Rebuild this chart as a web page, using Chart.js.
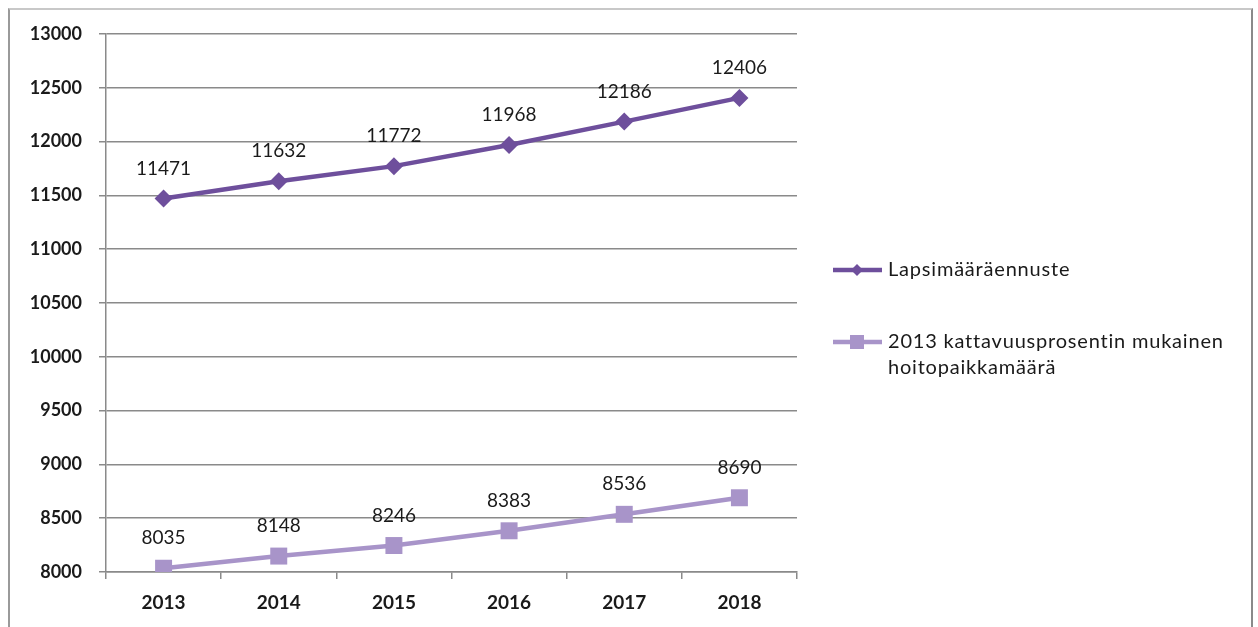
<!DOCTYPE html>
<html>
<head>
<meta charset="utf-8">
<script src="https://cdn.jsdelivr.net/npm/chart.js@4.4.0/dist/chart.umd.min.js"></script>
<style>
  html, body { margin: 0; padding: 0; background: #ffffff; overflow: hidden; }
  #wrap { position: relative; width: 1258px; height: 627px; }
  #frame {
    position: absolute; left: 8px; top: 8px; width: 1241px; height: 700px;
    border-top: 2px solid #c8c8c8; border-left: 2px solid #9a9a9a; border-right: 2px solid #8a8a8a;
  }
  canvas { position: absolute; left: 0; top: 0; }
</style>
</head>
<body>
<div id="wrap">
  <div id="frame"></div>
  <canvas id="chart" width="1258" height="627"></canvas>
</div>
<script>
// Chart data
const years = ['2013', '2014', '2015', '2016', '2017', '2018'];
const childForecast = [11471, 11632, 11772, 11968, 12186, 12406];
const carePlaces = [8035, 8148, 8246, 8383, 8536, 8690];
const seriesNames = ['Lapsimääräennuste', ['2013 kattavuusprosentin mukainen', 'hoitopaikkamäärä']];
const yTicks = [8000, 8500, 9000, 9500, 10000, 10500, 11000, 11500, 12000, 12500, 13000];

const darkPurple = '#6e4f9c';
const lightPurple = '#a894c9';
const fontFamily = 'Lato, "Open Sans", sans-serif';

// Draws value labels above each point
const valueLabels = {
    id: 'valueLabels',
    afterDatasetsDraw(chart) {
        const ctx = chart.ctx;
        ctx.save();
        ctx.font = '19px ' + fontFamily;
        ctx.fillStyle = '#1a1a1a';
        ctx.textAlign = 'center';
        ctx.textBaseline = 'middle';
        chart.data.datasets.forEach((ds, i) => {
            const meta = chart.getDatasetMeta(i);
            meta.data.forEach((pt, j) => {
                ctx.fillText(String(ds.data[j]), pt.x, pt.y - 30);
            });
        });
        ctx.restore();
    }
};

// Legend at the right side, with wrapped second entry
const sideLegend = {
    id: 'sideLegend',
    afterDraw(chart) {
        const ctx = chart.ctx;
        const x0 = chart.chartArea.right + 36;
        const rows = [270, 342];
        ctx.save();
        ctx.font = '20px ' + fontFamily;
        ctx.letterSpacing = '0.8px';
        ctx.textBaseline = 'middle';
        chart.data.datasets.forEach((ds, i) => {
            const y = rows[i];
            ctx.strokeStyle = ds.borderColor;
            ctx.lineWidth = 4.5;
            ctx.beginPath();
            ctx.moveTo(x0, y);
            ctx.lineTo(x0 + 49, y);
            ctx.stroke();
            ctx.fillStyle = ds.pointBackgroundColor;
            ctx.beginPath();
            if (i === 0) {
                ctx.moveTo(x0 + 24, y - 6);
                ctx.lineTo(x0 + 30, y);
                ctx.lineTo(x0 + 24, y + 6);
                ctx.lineTo(x0 + 18, y);
                ctx.closePath();
            } else {
                ctx.rect(x0 + 17, y - 7, 14, 14);
            }
            ctx.fill();
            ctx.fillStyle = '#1a1a1a';
            const lines = Array.isArray(ds.label) ? ds.label : [ds.label];
            lines.forEach((t, k) => ctx.fillText(t, x0 + 55, y + k * 26));
        });
        ctx.restore();
    }
};

initChart();

function initChart() {
    const ctx = document.getElementById('chart').getContext('2d');
    new Chart(ctx, {
        type: 'line',
        data: {
            labels: years,
            datasets: [
                {
                    label: seriesNames[0],
                    data: childForecast,
                    borderColor: darkPurple,
                    backgroundColor: darkPurple,
                    pointBackgroundColor: darkPurple,
                    pointBorderWidth: 0,
                    borderWidth: 4.5,
                    pointStyle: 'rectRot',
                    pointRadius: 9,
                    tension: 0
                },
                {
                    label: seriesNames[1],
                    data: carePlaces,
                    borderColor: lightPurple,
                    backgroundColor: lightPurple,
                    pointBackgroundColor: lightPurple,
                    pointBorderWidth: 0,
                    borderWidth: 4.5,
                    pointStyle: 'rect',
                    pointRadius: 12,
                    tension: 0
                }
            ]
        },
        options: {
            responsive: false,
            animation: false,
            layout: { padding: { left: 0, right: 461, top: 34, bottom: 0 } },
            plugins: {
                legend: { display: false },
                tooltip: { enabled: false }
            },
            scales: {
                x: {
                    offset: true,
                    grid: {
                        offset: true,
                        drawOnChartArea: false,
                        drawTicks: true,
                        tickLength: 7,
                        color: '#8a8a8a',
                        lineWidth: 1.5
                    },
                    border: { color: '#8a8a8a', width: 1.5 },
                    ticks: {
                        color: '#1a1a1a',
                        padding: 12,
                        font: { family: fontFamily, size: 19, weight: 'bold' }
                    },
                    afterFit: (scale) => { scale.height = 55; }
                },
                y: {
                    min: 8000,
                    max: 13000,
                    afterBuildTicks: (scale) => { scale.ticks = yTicks.map(v => ({ value: v })); },
                    grid: {
                        color: '#8a8a8a',
                        lineWidth: 1.5,
                        tickLength: 7
                    },
                    border: { color: '#8a8a8a', width: 1.5 },
                    ticks: {
                        color: '#1a1a1a',
                        padding: 17,
                        callback: (v) => String(v),
                        font: { family: fontFamily, size: 18, weight: 'bold' }
                    },
                    afterFit: (scale) => { scale.width = 106; }
                }
            }
        },
        plugins: [valueLabels, sideLegend]
    });
}
</script>
</body>
</html>
